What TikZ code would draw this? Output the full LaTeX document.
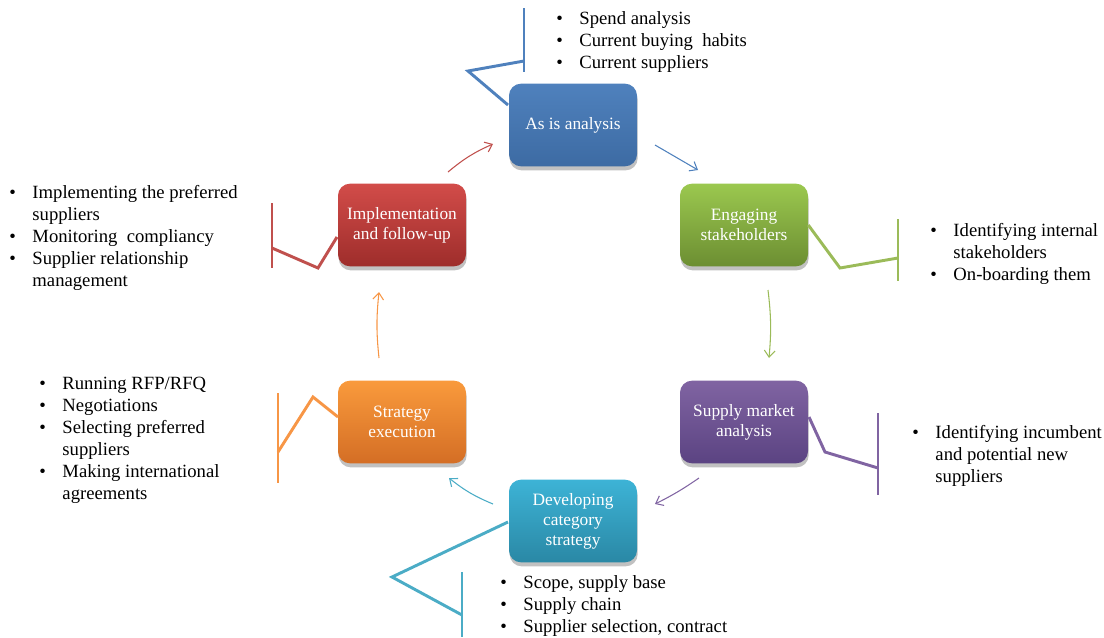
\documentclass[tikz,border=0pt]{standalone}
\usepackage{fontspec}
\setmainfont{Liberation Serif}
\usetikzlibrary{arrows.meta,shadows}

% Category management cycle: six stages with their activities
\definecolor{cBlue}{HTML}{4F81BD}
\definecolor{cBlueD}{HTML}{3D6BA3}
\definecolor{cGreen}{HTML}{9BC84F}
\definecolor{cGreenD}{HTML}{6C8E32}
\definecolor{cPurple}{HTML}{8064A2}
\definecolor{cPurpleD}{HTML}{5B4382}
\definecolor{cCyan}{HTML}{3DB3D6}
\definecolor{cCyanD}{HTML}{2A88A5}
\definecolor{cOrange}{HTML}{F99A3C}
\definecolor{cOrangeD}{HTML}{D46E25}
\definecolor{cRed}{HTML}{D24C49}
\definecolor{cRedD}{HTML}{9E2D2B}
\definecolor{lBlue}{HTML}{4F81BD}
\definecolor{lGreen}{HTML}{9BBB59}
\definecolor{lPurple}{HTML}{8064A2}
\definecolor{lCyan}{HTML}{4BACC6}
\definecolor{lOrange}{HTML}{F79646}
\definecolor{lRed}{HTML}{C0504D}

\tikzset{
  stage/.style n args={2}{rounded corners=9pt, minimum width=96pt, minimum height=62pt,
    top color=#1, bottom color=#2, draw=none, text=white, align=center,
    font=\fontsize{13}{15}\selectfont,
    drop shadow={shadow xshift=0.5pt, shadow yshift=-3pt, opacity=0.35, fill=black!70}},
  callout/.style={line width=2.2pt, #1},
  flow/.style={line width=0.8pt, #1, -{Straight Barb[length=5pt,width=8pt]}},
  notes/.style={anchor=base west, inner sep=0pt, font=\fontsize{14}{16.6}\selectfont}
}
\newcommand{\blist}[1]{\begin{tabular}[t]{@{}l@{\hspace{12.5pt}}l@{}}#1\end{tabular}}

\begin{document}
\begin{tikzpicture}[x=0.75pt,y=-0.75pt]
\useasboundingbox (0,0) rectangle (1104,637);

% stages
\node[stage={cBlue}{cBlueD}]     (asis)   at (573,125) {As is analysis};
\node[stage={cGreen}{cGreenD}]   (engage) at (744,225) {Engaging\\stakeholders};
\node[stage={cPurple}{cPurpleD}] (market) at (744,422) {Supply market\\analysis};
\node[stage={cCyan}{cCyanD}]     (devel)  at (573,521) {Developing\\category\\strategy};
\node[stage={cOrange}{cOrangeD}] (exec)   at (402,422) {Strategy\\execution};
\node[stage={cRed}{cRedD}]       (impl)   at (402,225) {Implementation\\and follow-up};

% flow between stages
\coordinate (a1s) at (655,145); \coordinate (a1e) at (698,170);
\coordinate (a2s) at (768,290); \coordinate (a2e) at (769,358);
\coordinate (a3s) at (699,478); \coordinate (a3e) at (655,504);
\coordinate (a4s) at (493,504); \coordinate (a4e) at (449,478);
\coordinate (a5s) at (379,358); \coordinate (a5e) at (379,292);
\coordinate (a6s) at (448,172); \coordinate (a6e) at (493,144);
\draw[flow=lBlue]   (a1s) -- (a1e);
\draw[flow=lGreen]  (a2s) to[bend left=6] (a2e);
\draw[flow=lPurple] (a3s) to[bend left=4] (a3e);
\draw[flow=lCyan]   (a4s) to[bend left=8] (a4e);
\draw[flow=lOrange] (a5s) to[bend left=6] (a5e);
\draw[flow=lRed]    (a6s) to[bend left=8] (a6e);

% callout brackets
\coordinate (b1a) at (468,71);  \coordinate (b1b) at (524,61);
\coordinate (b1t) at (524,8);   \coordinate (b1u) at (524,72);
\draw[callout=lBlue] (508,105) -- (b1a) -- (b1b);
\draw[callout=lBlue] (b1t) -- (b1u);

\coordinate (b2a) at (840,268); \coordinate (b2b) at (898,258);
\coordinate (b2t) at (898,219); \coordinate (b2u) at (898,281);
\draw[callout=lGreen] (engage.east) -- (b2a) -- (b2b);
\draw[callout=lGreen] (b2t) -- (b2u);

\coordinate (b3a) at (825,452); \coordinate (b3b) at (878,468);
\coordinate (b3t) at (878,413); \coordinate (b3u) at (878,495);
\draw[callout=lPurple] (809,417) -- (b3a) -- (b3b);
\draw[callout=lPurple] (b3t) -- (b3u);

\coordinate (b4a) at (392,577); \coordinate (b4b) at (462,615);
\coordinate (b4t) at (462,572); \coordinate (b4u) at (462,637);
\draw[callout=lCyan] (508,522) -- (b4a) -- (b4b);
\draw[callout=lCyan] (b4t) -- (b4u);

\coordinate (b5a) at (313,397); \coordinate (b5b) at (278,452);
\coordinate (b5t) at (278,393); \coordinate (b5u) at (278,483);
\draw[callout=lOrange] (338,417) -- (b5a) -- (b5b);
\draw[callout=lOrange] (b5t) -- (b5u);

\coordinate (b6a) at (318,268); \coordinate (b6b) at (272,248);
\coordinate (b6t) at (272,203); \coordinate (b6u) at (272,268);
\draw[callout=lRed] (337,237) -- (b6a) -- (b6b);
\draw[callout=lRed] (b6t) -- (b6u);

% activity lists
\node[notes] (n1) at (556,24) {\blist{\textbullet & Spend analysis\\ \textbullet & Current buying\ \ habits\\ \textbullet & Current suppliers}};
\node[notes] (n2) at (930,236) {\blist{\textbullet & Identifying internal\\ & stakeholders\\ \textbullet & On-boarding them}};
\node[notes] (n3) at (912,438) {\blist{\textbullet & Identifying incumbent\\ & and potential new\\ & suppliers}};
\node[notes] (n4) at (500,588) {\blist{\textbullet & Scope, supply base\\ \textbullet & Supply chain\\ \textbullet & Supplier selection, contract}};
\node[notes] (n5) at (39,389) {\blist{\textbullet & Running RFP/RFQ\\ \textbullet & Negotiations\\ \textbullet & Selecting preferred\\ & suppliers\\ \textbullet & Making international\\ & agreements}};
\node[notes] (n6) at (9,198) {\blist{\textbullet & Implementing the preferred\\ & suppliers\\ \textbullet & Monitoring\ \ compliancy\\ \textbullet & Supplier relationship\\ & management}};
\end{tikzpicture}
\end{document}
